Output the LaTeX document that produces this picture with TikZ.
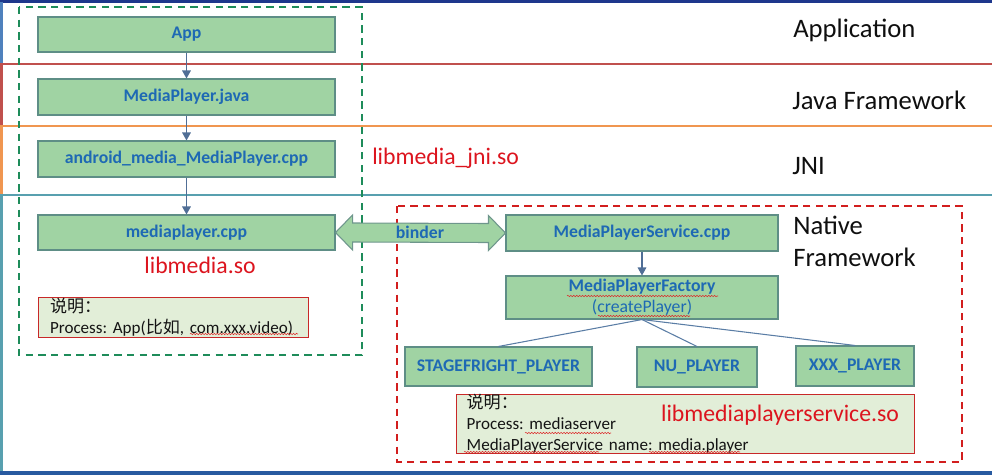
\documentclass[tikz,border=0pt]{standalone}
\usepackage{fontspec}
\setmainfont{Carlito}
\newfontfamily\cjk{Noto Sans CJK SC}
\usetikzlibrary{arrows.meta,calc,decorations.pathmorphing}
\frenchspacing

\begin{document}
\begin{tikzpicture}[x=0.75pt,y=0.75pt,yscale=-1,xscale=1,
  box/.style={draw={rgb,255:red,94;green,142;blue,134}, fill={rgb,255:red,160;green,211;blue,163}, line width=0.8pt, inner sep=0pt, text={rgb,255:red,30;green,105;blue,180}, font=\bfseries\fontsize{13.3}{15}\selectfont},
  note/.style={draw={rgb,255:red,200;green,40;blue,40}, fill={rgb,255:red,226;green,238;blue,216}, line width=0.6pt, align=left, inner ysep=0pt, font=\fontsize{12.8}{15.6}\selectfont, text={rgb,255:red,20;green,20;blue,20}},
  lib/.style={text={rgb,255:red,220;green,20;blue,30}, font=\fontsize{17.8}{20}\selectfont, inner sep=0pt},
  layername/.style={anchor=west, align=left, inner sep=0pt, font=\fontsize{20}{24}\selectfont, text={rgb,255:red,15;green,15;blue,15}},
  flow/.style={draw={rgb,255:red,80;green,110;blue,150}, line width=0.8pt, -{Triangle[length=6pt,width=6.5pt]}},
  branch/.style={draw={rgb,255:red,90;green,125;blue,165}, line width=0.8pt},
  spell/.style={draw={rgb,255:red,220;green,40;blue,40}, line width=0.4pt, decorate, decoration={snake, segment length=2.2pt, amplitude=0.5pt}}]
\useasboundingbox (0,0) rectangle (992,475);

%Layers
\draw [color={rgb, 255:red, 30; green, 55; blue, 140 }][line width=2.5pt] (0,1.5) -- (992,1.5) ;
\draw [color={rgb, 255:red, 79; green, 129; blue, 189 }][line width=2.2pt] (1.5,1.5) -- (1.5,64) ;
\draw [color={rgb, 255:red, 192; green, 80; blue, 77 }][line width=2.2pt] (0,64) -- (992,64) (1.5,64) -- (1.5,126) ;
\draw [color={rgb, 255:red, 240; green, 150; blue, 80 }][line width=2.2pt] (0,126) -- (992,126) (1.5,126) -- (1.5,195) ;
\draw [color={rgb, 255:red, 88; green, 160; blue, 175 }][line width=2.2pt] (0,195) -- (992,195) (1.5,195) -- (1.5,472) ;
\draw [color={rgb, 255:red, 40; green, 90; blue, 160 }][line width=2.5pt] (0,473) -- (992,473) ;

%Process boxes
\draw [color={rgb, 255:red, 30; green, 140; blue, 90 }][line width=1.4pt, dash pattern=on 5.5pt off 4pt] (19,7) rectangle (362,355) ;
\draw [color={rgb, 255:red, 210; green, 30; blue, 30 }][line width=1.4pt, dash pattern=on 5.5pt off 4pt] (397,206) rectangle (962,462) ;

%Left stack
\node [box, minimum width=297*0.75pt, minimum height=35*0.75pt] (app) at (186.5,34.5) {App};
\node [box, minimum width=297*0.75pt, minimum height=36*0.75pt] (mpjava) at (186.5,97) {MediaPlayer.java};
\node [box, minimum width=297*0.75pt, minimum height=36*0.75pt] (jnicpp) at (186.5,159) {android\_media\_MediaPlayer.cpp};
\node [box, minimum width=297*0.75pt, minimum height=35*0.75pt] (mpcpp) at (186.5,232.5) {mediaplayer.cpp};
\draw [flow] (app) -- (mpjava) ;
\draw [flow] (mpjava) -- (jnicpp) ;
\draw [flow] (jnicpp) -- (mpcpp) ;

%Right stack
\node [box, minimum width=272*0.75pt, minimum height=36*0.75pt] (mps) at (642,233) {MediaPlayerService.cpp};
\node [box, minimum width=272*0.75pt, minimum height=43*0.75pt, align=center, font=\fontsize{13.3}{15.5}\selectfont] (factory) at (642,297.5) {\textbf{MediaPlayerFactory}\\(createPlayer)};
\node [box, minimum width=187*0.75pt, minimum height=39*0.75pt] (stage) at (498.5,366.5) {STAGEFRIGHT\_PLAYER};
\node [box, minimum width=120*0.75pt, minimum height=40*0.75pt] (nu) at (697,367) {NU\_PLAYER};
\node [box, minimum width=118*0.75pt, minimum height=40*0.75pt] (xxx) at (855,366) {XXX\_PLAYER};
\draw [flow] (mps) -- (factory) ;
\draw [branch] (factory.south) -- (stage.north) ;
\draw [branch] (factory.south) -- (nu.north) ;
\draw [branch] (factory.south) -- (xxx.north) ;

%Binder
\draw [draw={rgb, 255:red, 110; green, 150; blue, 140 }, fill={rgb, 255:red, 160; green, 211; blue, 163 }, line width=0.8pt]
  (mpcpp.east) -- ++(17,-17.5) -- ++(0,8) -- ($(mps.west)+(-17,-9.5)$) -- ++(0,-8) -- (mps.west)
  -- ++(-17,17.5) -- ++(0,-8) -- ($(mpcpp.east)+(17,9.5)$) -- ++(0,8) -- cycle ;
\node [box, draw=none, fill=none] (binder) at (420,232) {binder};

%Notes
\node [note, text width=270*0.75pt-18pt, inner xsep=9pt, minimum height=40*0.75pt] (note1) at (173,317) {{\cjk 说明：}\\Process: App({\cjk 比如}, com.xxx.video)};
\node [note, text width=458*0.75pt-16pt, inner xsep=8pt, minimum height=59*0.75pt] (note2) at (685,423.5) {{\cjk 说明：}\\Process: mediaserver\\MediaPlayerService name: media.player};
\draw [spell] (190,334) -- (298,334) ;
\draw [spell] (525,433) -- (611,433) ;
\draw [spell] (464,452) -- (599,452) ;
\draw [spell] (649,452) -- (740,452) ;
\draw [spell] (567,296) -- (718,296) ;
\draw [spell] (598,316) -- (690,316) ;

%Libraries
\node [lib, anchor=west] (libjni) at (372,158) {libmedia\_jni.so};
\node [lib] (libmedia) at (200,265) {libmedia.so};
\node [lib] (libmps) at (780,415) {libmediaplayerservice.so};

%Layer names
\node [layername] (lapp) at (793,30) {Application};
\node [layername] (ljava) at (792,100) {Java Framework};
\node [layername] (ljni) at (792,166) {JNI};
\node [layername] (lnative) at (793,241) {Native\\Framework};

\end{tikzpicture}
\end{document}
